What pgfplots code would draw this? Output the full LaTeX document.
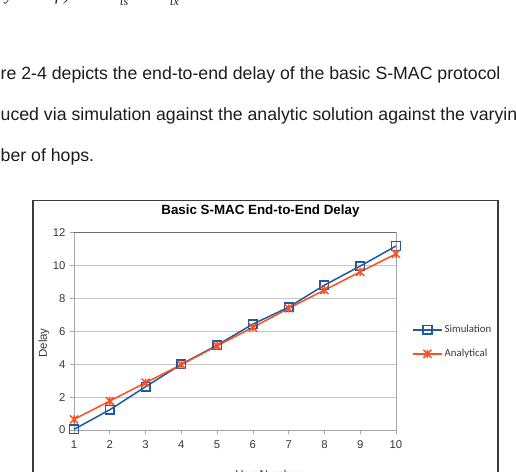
\documentclass[border=0pt]{standalone}
\usepackage{fontspec}
\setmainfont{Liberation Sans}
\newfontfamily\calibri{Carlito}
\newfontfamily\serifit{Liberation Serif}
\usepackage{pgfplots}
\pgfplotsset{compat=1.18}
\definecolor{simblue}{RGB}{30,90,160}
\definecolor{anaorange}{RGB}{250,80,35}
\definecolor{txt}{RGB}{28,28,28}
\definecolor{ticktxt}{RGB}{55,55,55}
\definecolor{framec}{RGB}{60,60,60}
\pgfdeclareplotmark{xstar}{%
  \pgfpathmoveto{\pgfqpoint{-\pgfplotmarksize}{-\pgfplotmarksize}}%
  \pgfpathlineto{\pgfqpoint{\pgfplotmarksize}{\pgfplotmarksize}}%
  \pgfpathmoveto{\pgfqpoint{-\pgfplotmarksize}{\pgfplotmarksize}}%
  \pgfpathlineto{\pgfqpoint{\pgfplotmarksize}{-\pgfplotmarksize}}%
  \pgfpathmoveto{\pgfqpoint{0pt}{-\pgfplotmarksize}}%
  \pgfpathlineto{\pgfqpoint{0pt}{\pgfplotmarksize}}%
  \pgfusepathqstroke}
\begin{document}
\begin{tikzpicture}
\useasboundingbox (0,0) rectangle (516bp,472bp);
\begin{scope}
\clip (0,0) rectangle (516bp,472bp);
% cropped math line at top
\node[anchor=base west, inner sep=0, font=\serifit\itshape\fontsize{17bp}{20bp}\selectfont, text=txt] at (5bp,471bp) {y};
\node[anchor=base west, inner sep=0, font=\serifit\itshape\fontsize{17bp}{20bp}\selectfont, text=txt] at (55bp,471bp) {f )};
\node[anchor=base west, inner sep=0, font=\serifit\itshape\fontsize{12bp}{14bp}\selectfont, text=txt] at (120bp,466bp) {ts};
\node[anchor=base west, inner sep=0, font=\serifit\itshape\fontsize{12bp}{14bp}\selectfont, text=txt] at (170bp,466bp) {tx};
% paragraph text
\node[anchor=base west, inner sep=0, font=\fontsize{17.7bp}{20bp}\selectfont, text=txt] at (0.5bp,392bp) {re 2-4 depicts the end-to-end delay of the basic S-MAC protocol};
\node[anchor=base west, inner sep=0, font=\fontsize{17.7bp}{20bp}\selectfont, text=txt] at (0.5bp,351bp) {uced via simulation against the analytic solution against the varying};
\node[anchor=base west, inner sep=0, font=\fontsize{17.7bp}{20bp}\selectfont, text=txt] at (0.5bp,310bp) {ber of hops.};
% chart frame
\draw[color=framec, line width=1.3bp] (33bp,-10bp) rectangle (498bp,271.3bp);
\begin{axis}[
  at={(74bp,42bp)}, anchor=south west,
  scale only axis, width=322bp, height=197.3bp,
  xmin=1, xmax=10, ymin=0, ymax=12,
  xtick={1,2,...,10}, ytick={0,2,...,12},
  xtick pos=left, ytick pos=left,
  tick align=outside, major tick length=4bp,
  tick style={color=gray!70, line width=0.75bp},
  axis line style={color=gray!70, line width=1bp},
  ymajorgrids, grid style={color=gray!45, line width=0.75bp},
  ticklabel style={font=\fontsize{11.3bp}{13bp}\selectfont, text=ticktxt},
  xticklabel style={yshift=-3.5bp},
  yticklabel style={xshift=-1bp},
  /pgf/number format/assume math mode=true,
  title={Basic S-MAC End-to-End Delay},
  title style={at={(axis description cs:0.579,1.0644)}, anchor=base, font=\bfseries\fontsize{13.35bp}{15bp}\selectfont, text=black},
  xlabel={Hop Number},
  xlabel style={at={(axis description cs:0.6025,-0.2475)}, anchor=base, font=\fontsize{11.5bp}{13bp}\selectfont, text=ticktxt},
  ylabel={Delay},
  ylabel style={at={(axis description cs:-0.0932,0.441)}, anchor=center, font=\fontsize{11.5bp}{13bp}\selectfont, text=ticktxt},
  legend style={at={(axis description cs:1.0497,0.447)}, anchor=west, draw=none, fill=none,
    font=\calibri\fontsize{10.8bp}{13bp}\selectfont, text=ticktxt, inner sep=0pt, row sep=11bp,
    cells={anchor=west}},
  legend cell align=left,
  legend image code/.code={\draw[mark repeat=2, mark phase=2, #1] plot coordinates {(0bp,0bp) (14.5bp,0bp) (29bp,0bp)};},
  clip=false,
]
\draw[color=gray!85!black, line width=1bp] (rel axis cs:0,1) -- (rel axis cs:1,1);
\addplot[color=simblue, line width=1.5bp, mark=square, mark size=4.3bp, mark options={line width=1.5bp}]
  coordinates {(1,0.04) (2,1.23) (3,2.63) (4,4.0) (5,5.16) (6,6.44) (7,7.47) (8,8.81) (9,9.97) (10,11.19)};
\addlegendentry{Simulation}
\addplot[color=anaorange, line width=1.5bp, mark=xstar, mark size=4bp, mark options={line width=1.5bp}]
  coordinates {(1,0.65) (2,1.76) (3,2.88) (4,3.97) (5,5.12) (6,6.24) (7,7.4) (8,8.51) (9,9.62) (10,10.71)};
\addlegendentry{Analytical}
\end{axis}
\end{scope}
\end{tikzpicture}
\end{document}
